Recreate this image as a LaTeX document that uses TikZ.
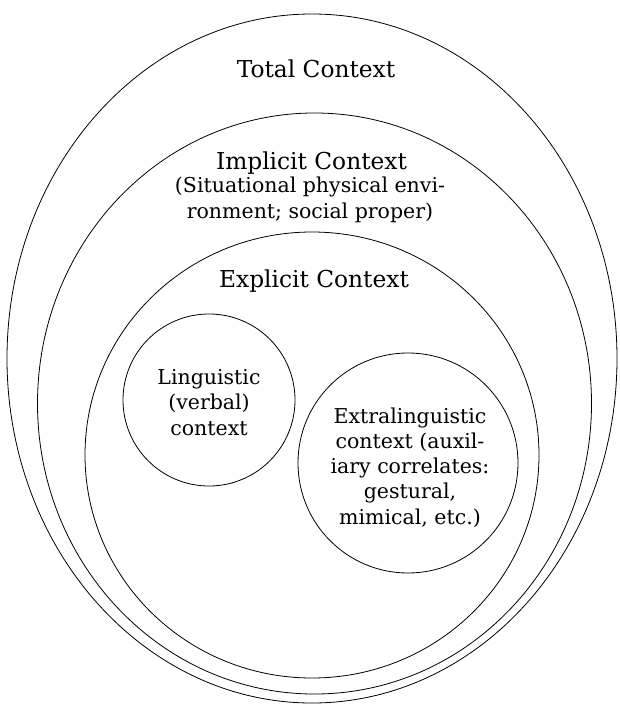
\documentclass[tikz,border=0pt]{standalone}
\usepackage{fontspec}
\setmainfont{DejaVu Serif}
\usetikzlibrary{shapes.geometric}
\begin{document}
\begin{tikzpicture}[x=1pt,y=-1pt,
  region/.style={draw=black, line width=0.8pt, ellipse, inner sep=0pt, outer sep=0pt},
  disc/.style={draw=black, line width=0.8pt, circle, inner sep=0pt, outer sep=0pt},
  head/.style={font=\fontsize{23.3}{26}\selectfont, align=center, inner sep=0pt, anchor=base},
  body/.style={font=\fontsize{20.5}{25.2}\selectfont, align=center, inner sep=0pt, anchor=base}]
\useasboundingbox (0,0) rectangle (619,704);
% regions
\node[region, minimum width=610pt, minimum height=689pt] (total) at (312,358.5) {};
\node[region, minimum width=554pt, minimum height=581pt] (implicit) at (314.5,403.5) {};
\node[region, minimum width=454pt, minimum height=446pt] (explicit) at (312,455) {};
\node[disc, minimum size=172pt] (ling) at (209,400) {};
\node[disc, minimum size=220pt] (extra) at (408,463) {};
% labels (base anchor = baseline of the last line)
\node[head] (totaltxt) at (316,77) {Total Context};
\node[head] (impltxt) at (311.5,169) {Implicit Context};
\node[body] (implnote) at (310,218) {(Situational physical envi-\\ronment; social proper)};
\node[head] (expltxt) at (314,287) {Explicit Context};
\node[body] (lingtxt) at (209,435) {Linguistic\\(verbal)\\context};
\node[body] (extratxt) at (410,524) {Extralinguistic\\context (auxil-\\iary correlates:\\gestural,\\mimical, etc.)};
\end{tikzpicture}
\end{document}
